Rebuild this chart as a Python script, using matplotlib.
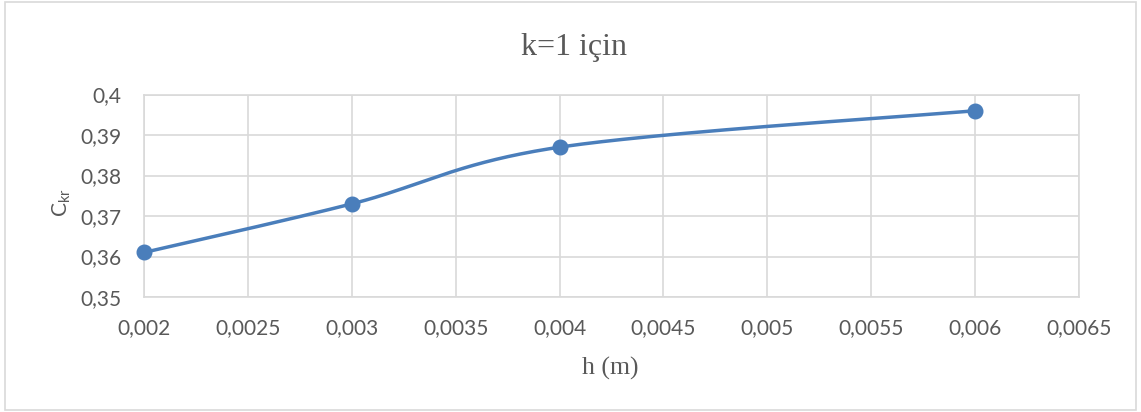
import numpy as np
import matplotlib
matplotlib.use('Agg')
import matplotlib.pyplot as plt
from matplotlib.patches import Rectangle

# h (m) vs C_kr, k=1
h = [0.002, 0.003, 0.004, 0.006]
ckr = [0.361, 0.373, 0.387, 0.396]
xticks = [0.002, 0.0025, 0.003, 0.0035, 0.004, 0.0045, 0.005, 0.0055, 0.006, 0.0065]
yticks = [0.35, 0.36, 0.37, 0.38, 0.39, 0.40]

plt.rcParams['mathtext.fontset'] = 'custom'
plt.rcParams['mathtext.rm'] = 'Lato'
plt.rcParams['mathtext.it'] = 'Lato'

blue = '#4A7EBB'
grid = '#D9D9D9'
txt = '#595959'

fig = plt.figure(figsize=(11.41, 4.12), dpi=100)
ax = fig.add_axes([0.1262, 0.2791, 0.8195, 0.4915])

xmin, xmax = 0.002, 0.0065
ymin, ymax = 0.35, 0.40
ax.set_xlim(xmin, xmax)
ax.set_ylim(ymin, ymax)

# smoothed line: cubic bezier segments (catmull-rom style) in screen-ish units
sx = 935.0 / (xmax - xmin)
sy = 203.0 / (ymax - ymin)
P = np.array([[(a - xmin) * sx, (b - ymin) * sy] for a, b in zip(h, ckr)])
n = len(P)
cx, cy = [], []
t = np.linspace(0, 1, 60)
for i in range(n - 1):
    p0 = P[max(i - 1, 0)]
    p1 = P[i]
    p2 = P[i + 1]
    p3 = P[min(i + 2, n - 1)]
    b1 = p1 + (p2 - p0) / 6.0
    b2 = p2 - (p3 - p1) / 6.0
    seg = ((1 - t) ** 3)[:, None] * p1 + (3 * (1 - t) ** 2 * t)[:, None] * b1 \
        + (3 * (1 - t) * t ** 2)[:, None] * b2 + (t ** 3)[:, None] * p2
    cx.extend(seg[:, 0] / sx + xmin)
    cy.extend(seg[:, 1] / sy + ymin)

ax.plot(cx, cy, color=blue, lw=2.5, solid_capstyle='round', zorder=3, clip_on=False)
ax.plot(h, ckr, 'o', color=blue, ms=10.5, zorder=4, clip_on=False)

ax.set_xticks(xticks)
ax.set_yticks(yticks)
ax.set_xticklabels([('%g' % v).replace('.', ',') for v in xticks])
ax.set_yticklabels([('%g' % v).replace('.', ',') for v in yticks])
ax.tick_params(length=0, labelsize=15, labelcolor=txt)
ax.tick_params(axis='x', pad=15)
ax.tick_params(axis='y', pad=16)
for lab in ax.get_xticklabels() + ax.get_yticklabels():
    lab.set_fontfamily('Lato')

ax.grid(True, color=grid, lw=1.2)
ax.set_axisbelow(True)
for s in ax.spines.values():
    s.set_color(grid)
    s.set_linewidth(1.2)

fig.text(574 / 1141, 1 - 47 / 412, 'k=1 için', ha='center', va='center',
         family='Liberation Serif', fontsize=23, color=txt)
fig.text(610 / 1141, 1 - 368 / 412, 'h (m)', ha='center', va='center',
         family='Liberation Serif', fontsize=18.5, color=txt)
fig.text(62 / 1141, 1 - 203 / 412, r'$\mathrm{C}_{\mathrm{kr}}$', ha='center', va='center',
         rotation=90, fontsize=15, color=txt)

fig.patches.append(Rectangle((0.004, 0.004), 0.992, 0.992, transform=fig.transFigure,
                             fill=False, edgecolor=grid, lw=1.2))

plt.savefig('out.png', dpi=100, facecolor='white')
